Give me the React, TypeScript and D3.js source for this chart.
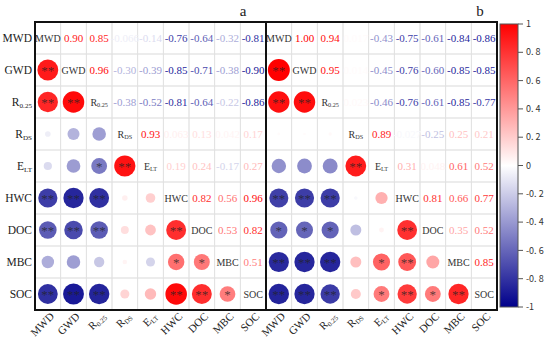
import React from "react";
import * as d3 from "d3";

const vars = ["MWD", "GWD", "R0.25", "RDS", "ELT", "HWC", "DOC", "MBC", "SOC"];

// upper triangle, row i holds r(i, j) for j > i
const upperA = [
  [0.9, 0.85, -0.066, -0.14, -0.76, -0.64, -0.32, -0.81],
  [0.96, -0.3, -0.39, -0.85, -0.71, -0.38, -0.9],
  [-0.38, -0.52, -0.81, -0.64, -0.22, -0.86],
  [0.93, 0.063, 0.13, 0.042, 0.17],
  [0.19, 0.24, -0.17, 0.27],
  [0.82, 0.56, 0.96],
  [0.53, 0.82],
  [0.51],
];

const upperB = [
  [1.0, 0.94, 0.017, -0.43, -0.75, -0.61, -0.84, -0.86],
  [0.95, 0.014, -0.45, -0.76, -0.6, -0.85, -0.85],
  [0.023, -0.46, -0.76, -0.61, -0.85, -0.77],
  [0.89, -0.027, -0.25, 0.25, 0.21],
  [0.31, 0.048, 0.61, 0.52],
  [0.81, 0.66, 0.77],
  [0.35, 0.52],
  [0.85],
];

// lower triangle significance, row i holds marks for j < i
const starsA = [
  [],
  ["**"],
  ["**", "**"],
  ["", "", ""],
  ["", "", "*", "**"],
  ["**", "**", "**", "", ""],
  ["**", "**", "**", "", "", "**"],
  ["", "", "", "", "", "*", "*"],
  ["**", "**", "**", "", "", "**", "**", "*"],
];

const starsB = [
  [],
  ["**"],
  ["**", "**"],
  ["", "", ""],
  ["", "", "", "**"],
  ["**", "**", "**", "", ""],
  ["*", "*", "*", "", "", "**"],
  ["**", "**", "**", "", "*", "**", ""],
  ["**", "**", "**", "", "*", "**", "*", "**"],
];

const barTicks = [1, 0.8, 0.6, 0.4, 0.2, 0, -0.2, -0.4, -0.6, -0.8, -1];

const subs: Record<string, [string, string]> = {
  "R0.25": ["R", "0.25"],
  RDS: ["R", "DS"],
  ELT: ["E", "LT"],
};

const color = d3
  .scaleLinear<string>()
  .domain([-1, 0, 1])
  .range(["#00008b", "#ffffff", "#ff0000"]);

const fmt = (v: number) =>
  Math.abs(v) < 0.1 ? v.toPrecision(2) : v.toFixed(2);

const Label = ({ name }: { name: string }) => {
  const s = subs[name];
  if (!s) return <>{name}</>;
  return (
    <>
      {s[0]}
      <tspan fontSize="0.62em" dy="0.3em">
        {s[1]}
      </tspan>
    </>
  );
};

const top = 22;
const bottom = 310;
const y = d3.scaleBand<string>().domain(vars).range([top, bottom]);
const serif = "'Liberation Serif', 'Times New Roman', serif";

const Panel = ({
  x0,
  x1,
  upper,
  stars,
  title,
  titleX,
}: {
  x0: number;
  x1: number;
  upper: number[][];
  stars: string[][];
  title: string;
  titleX: number;
}) => {
  const x = d3.scaleBand<string>().domain(vars).range([x0, x1]);
  const rScale = d3.scaleSqrt().domain([0, 1]).range([0, 11]);
  const cells: JSX.Element[] = [];
  vars.forEach((rv, i) => {
    vars.forEach((cv, j) => {
      const cx = x(cv)! + x.bandwidth() / 2;
      const cy = y(rv)! + y.bandwidth() / 2;
      const key = `${i}-${j}`;
      if (i === j) {
        cells.push(
          <text key={key} x={cx} y={cy} dy="0.35em" textAnchor="middle" fontSize={10} fill="#333">
            <Label name={rv} />
          </text>
        );
      } else if (j > i) {
        const v = upper[i][j - i - 1];
        cells.push(
          <text key={key} x={cx} y={cy} dy="0.35em" textAnchor="middle" fontSize={11} fill={color(v)}>
            {fmt(v)}
          </text>
        );
      } else {
        const v = upper[j][i - j - 1];
        const st = stars[i][j];
        cells.push(
          <g key={key}>
            <circle cx={cx} cy={cy} r={rScale(Math.abs(v))} fill={color(v)} />
            {st && (
              <text x={cx} y={cy} dy="0.42em" textAnchor="middle" fontSize={13} fill="#222" fillOpacity={0.75}>
                {st}
              </text>
            )}
          </g>
        );
      }
    });
  });
  return (
    <g fontFamily={serif}>
      {vars.map((v) => (
        <rect
          key={"c" + v}
          x={x(v)}
          y={top}
          width={x.bandwidth()}
          height={bottom - top}
          fill="none"
          stroke="#e2e2e2"
          strokeWidth={0.8}
        />
      ))}
      {vars.map((v) => (
        <rect
          key={"r" + v}
          x={x0}
          y={y(v)}
          width={x1 - x0}
          height={y.bandwidth()}
          fill="none"
          stroke="#e2e2e2"
          strokeWidth={0.8}
        />
      ))}
      {cells}
      <rect x={x0} y={top} width={x1 - x0} height={bottom - top} fill="none" stroke="#111" strokeWidth={2} />
      {vars.map((v) => (
        <text
          key={"b" + v}
          transform={`translate(${x(v)! + x.bandwidth() / 2 + 7},${bottom + 7}) rotate(-45)`}
          textAnchor="end"
          fontSize={11}
          fill="#222"
        >
          <Label name={v} />
        </text>
      ))}
      <text x={titleX} y={16} textAnchor="middle" fontSize={15} fill="#222">
        {title}
      </text>
    </g>
  );
};

const ColorBar = () => {
  const bx = 500;
  const bw = 18;
  const yb = d3.scaleLinear().domain([1, -1]).range([24, 307]);
  return (
    <g>
      <defs>
        <linearGradient id="cbar" x1="0" y1="0" x2="0" y2="1">
          {d3.range(0, 1.0001, 0.1).map((t) => (
            <stop key={t} offset={`${t * 100}%`} stopColor={color(1 - 2 * t)} />
          ))}
        </linearGradient>
      </defs>
      <rect x={bx} y={yb(1)} width={bw} height={yb(-1) - yb(1)} fill="url(#cbar)" stroke="#555" strokeWidth={1} />
      {barTicks.map((t) => (
        <g key={t} transform={`translate(${bx + bw},${yb(t)})`}>
          <line x1={0} x2={5} stroke="#555" />
          <text x={8} dy="0.35em" fontSize={9} fill="#333" fontFamily="'Noto Sans CJK SC', sans-serif">
            {t === 0 || Math.abs(t) === 1 ? String(t) : t.toFixed(1).replace(".", ". ")}
          </text>
        </g>
      ))}
    </g>
  );
};

export default function App() {
  return (
    <svg width={550} height={346} style={{ position: "absolute", left: 0, top: 0, background: "#fff" }}>
      {vars.map((v) => (
        <text
          key={v}
          x={32}
          y={y(v)! + y.bandwidth() / 2}
          dy="0.35em"
          textAnchor="end"
          fontSize={11.5}
          fontFamily={serif}
          fill="#222"
        >
          <Label name={v} />
        </text>
      ))}
      <Panel x0={35} x1={266} upper={upperA} stars={starsA} title="a" titleX={243} />
      <Panel x0={266} x1={497} upper={upperB} stars={starsB} title="b" titleX={480} />
      <ColorBar />
    </svg>
  );
}
